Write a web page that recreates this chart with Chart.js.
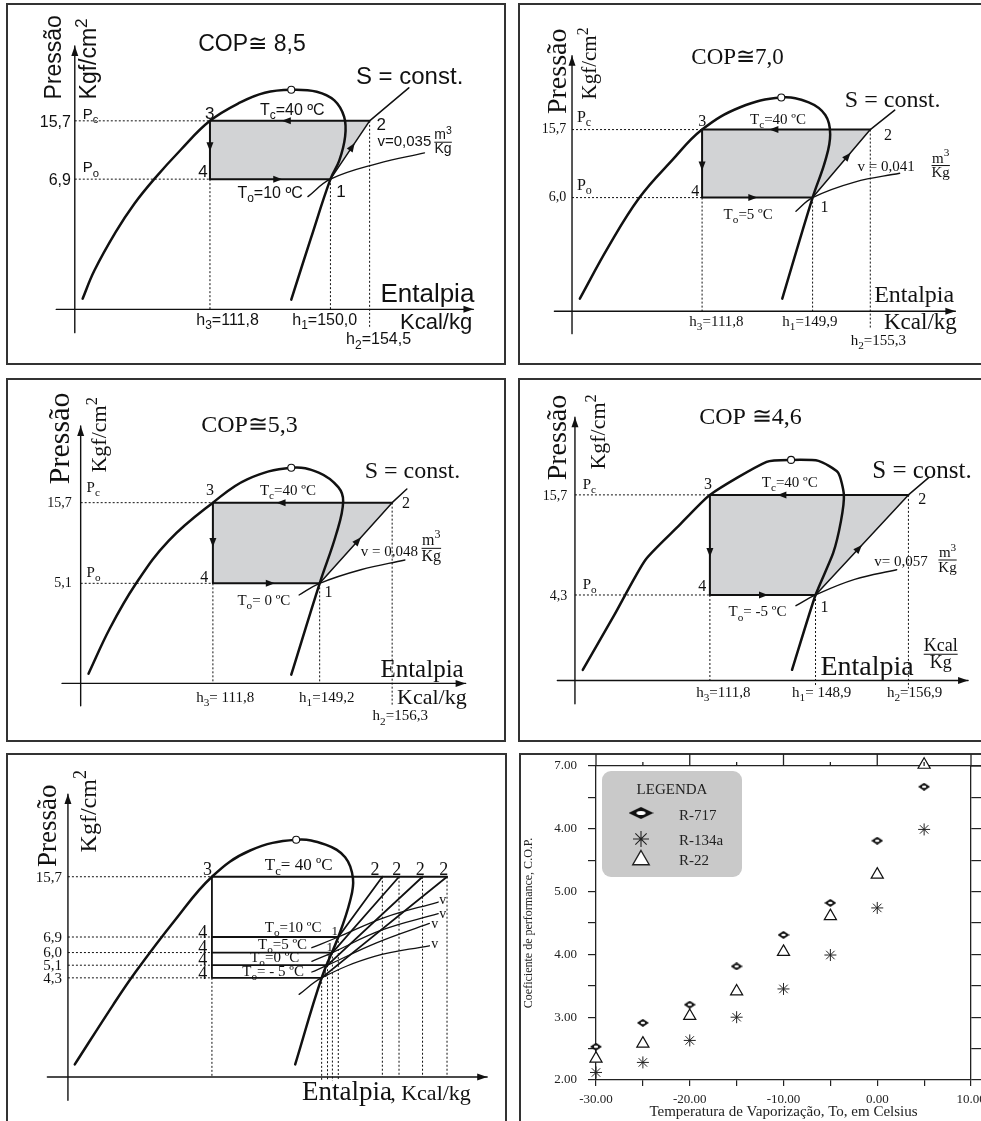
<!DOCTYPE html>
<html>
<head>
<meta charset="utf-8">
<title>Ciclo de refrigeração – diagramas P-h e COP</title>
<script src="https://cdn.jsdelivr.net/npm/chart.js@4.4.1/dist/chart.umd.min.js"></script>
<style>
  html, body { margin: 0; padding: 0; background: #fff; overflow: hidden; }
  body { position: relative; width: 981px; height: 1121px; }
  .frame { position: absolute; border: 2px solid #333; box-sizing: border-box; }
  canvas { position: absolute; }
</style>
</head>
<body>
<div class="frame" style="left:6px;top:3px;width:500px;height:362px"></div>
<div class="frame" style="left:518px;top:3px;width:500px;height:362px"></div>
<div class="frame" style="left:6px;top:378px;width:500px;height:364px"></div>
<div class="frame" style="left:518px;top:378px;width:500px;height:364px"></div>
<div class="frame" style="left:6px;top:753px;width:501px;height:400px"></div>
<div class="frame" style="left:519px;top:753px;width:500px;height:400px"></div>
<script>
// P-h diagrams are schematic: x / y are diagram units measured from the axis origin.

// panel 1 - To = 10 ºC
const p1Dome = [[8,11],[20,40],[42,80],[61,109],[81,134],[108,164],[138,194],[169,213],[194,223],[221,226],[247,224],[265,215],[275,198],[276,178],[270,153],[261,134],[241,73],[221,10]];
const p1Cycle = [[138,194],[301,194],[261,134],[138,134]];   // points 3, 2, 1, 4
const p1SEnd = [341,228];
const p1Vol = [[238,116],[261,134],[309,150],[357,161]];
const p1Crit = [221,226];

// panel 2 - To = 5 ºC
const p2Dome = [[8,13],[37,66],[69,117],[102,155],[133,187],[172,210],[214,220],[242,215],[259,202],[264,182],[259,155],[246,117],[215,13]];
const p2Cycle = [[133,187],[305,187],[246,117],[133,117]];
const p2SEnd = [330,207];
const p2Vol = [[229,103],[246,117],[289,133],[335,142]];
const p2Crit = [214,220];

// panel 3 - To = 0 ºC
const p3Dome = [[8,10],[30,57],[56,102],[90,147],[135,186],[170,210],[215,222],[243,217],[263,202],[268,187],[261,154],[244,103],[215,9]];
const p3Cycle = [[135,186],[318,186],[244,103],[135,103]];
const p3SEnd = [333,200];
const p3Vol = [[223,91],[244,103],[286,117],[331,127]];
const p3Crit = [215,222];

// panel 4 - To = -5 ºC
const p4Dome = [[8,11],[40,67],[72,124],[105,158],[138,191],[196,225],[221,227],[249,226],[269,214],[275,191],[272,164],[264,131],[246,88],[222,11]];
const p4Cycle = [[138,191],[341,191],[246,88],[138,88]];
const p4SEnd = [362,209];
const p4Vol = [[226,77],[246,88],[286,104],[329,114]];
const p4Crit = [221,227];

// panel 5 - the four evaporating temperatures together
const p5Dome = [[7,13],[46,74],[69,108],[109,161],[147,206],[186,233],[233,244],[263,239],[283,226],[291,204],[288,181],[276,144],[259,102],[232,13]];
const p5Crit = [233,244];
const p5Pc = 206;
const p5H3 = 147;
const p5Po = [144,128,115,102];      // To = 10, 5, 0, -5 ºC
const p5H1 = [276,270,265,259];
const p5H2 = [321,338,362,387];
const p5Vol = [
  [[249,133],[276,144],[323,164],[378,180]],
  [[249,119],[270,128],[320,151],[378,168]],
  [[249,108],[265,115],[315,138],[369,158]],
  [[236,85],[259,102],[313,124],[369,135]]
];

// panel 6 - COP vs evaporating temperature
const temps = [-30,-25,-20,-15,-10,-5,0,5];
const copR717 = [2.53,2.91,3.20,3.81,4.31,4.82,5.81,6.67];
const copR134a = [2.12,2.28,2.63,3.00,3.45,3.99,4.74,5.99];
const copR22 = [2.34,2.58,3.02,3.41,4.04,4.61,5.27,7.02];
const seriesNames = ['R-717','R-134a','R-22'];
const xTickVals = [-30,-20,-10,0,10];
const yTickLabels = ['2.00','3.00','4.00','5.00','4.00','7.00'];   // as printed on the figure

const SANS = '"Liberation Sans", Arial, "DejaVu Sans", sans-serif';
const SERIF = '"Liberation Serif", "Times New Roman", "DejaVu Serif", serif';
const INK = '#111';

// ---------- helpers ----------
function rich(ctx, s, x, y, size, fam, align, measureOnly) {
  const runs = [];
  let i = 0;
  while (i < s.length) {
    if ((s[i] === '_' || s[i] === '^') && s[i + 1] === '{') {
      const j = s.indexOf('}', i);
      runs.push({ t: s.slice(i + 2, j), k: s[i] });
      i = j + 1;
    } else {
      let j = i;
      while (j < s.length && !((s[j] === '_' || s[j] === '^') && s[j + 1] === '{')) j++;
      runs.push({ t: s.slice(i, j), k: '' });
      i = j;
    }
  }
  const font = r => (r.k ? size * 0.75 : size) + 'px ' + fam;
  let w = 0;
  runs.forEach(r => { ctx.font = font(r); r.w = ctx.measureText(r.t).width; w += r.w; });
  if (measureOnly) return w;
  let cx = align === 'right' ? x - w : align === 'center' ? x - w / 2 : x;
  ctx.textAlign = 'left';
  ctx.textBaseline = 'alphabetic';
  runs.forEach(r => {
    ctx.font = font(r);
    const dy = r.k === '_' ? size * 0.28 : r.k === '^' ? -size * 0.42 : 0;
    ctx.fillText(r.t, cx, y + dy);
    cx += r.w;
  });
  return w;
}

function drawFrac(ctx, top, bot, cx, barY, size, fam) {
  const w = Math.max(rich(ctx, top, 0, 0, size, fam, 'left', true), rich(ctx, bot, 0, 0, size, fam, 'left', true));
  rich(ctx, top, cx, barY - size * 0.2, size, fam, 'center');
  rich(ctx, bot, cx, barY + size * 0.78, size, fam, 'center');
  ctx.fillRect(cx - w / 2, barY - 0.5, w, 1);
}

function drawHead(ctx, x, y, dx, dy, len, hw) {
  const m = Math.hypot(dx, dy) || 1, ux = dx / m, uy = dy / m;
  ctx.beginPath();
  ctx.moveTo(x, y);
  ctx.lineTo(x - ux * len - uy * hw, y - uy * len + ux * hw);
  ctx.lineTo(x - ux * len + uy * hw, y - uy * len - ux * hw);
  ctx.closePath();
  ctx.fill();
}

const GAP = [null, null];
function segs(list) {
  const out = [];
  list.forEach((s, i) => { if (i) out.push(GAP); out.push(...s); });
  return out;
}

function line(data, w, extra) {
  return Object.assign({ data, borderColor: INK, borderWidth: w, pointRadius: 0, fill: false, tension: 0,
    borderCapStyle: 'round', borderJoinStyle: 'round' }, extra || {});
}

function makeCanvas(L) {
  const cv = document.createElement('canvas');
  cv.width = L.w; cv.height = L.h;
  cv.style.left = L.left + 'px'; cv.style.top = L.top + 'px';
  cv.style.width = L.w + 'px'; cv.style.height = L.h + 'px';
  document.body.appendChild(cv);
  return cv;
}

function annotPlugin(L, arrows) {
  return {
    id: 'annot_' + L.id,
    afterDatasetsDraw(chart) {
      const ctx = chart.ctx, xs = chart.scales.x, ys = chart.scales.y;
      const X = v => xs.getPixelForValue(v), Y = v => ys.getPixelForValue(v);
      ctx.save();
      ctx.fillStyle = INK;
      arrows.forEach(([a, b, t, len, hw]) => {
        const x = a[0] + (b[0] - a[0]) * t, y = a[1] + (b[1] - a[1]) * t;
        drawHead(ctx, X(x), Y(y), X(b[0]) - X(a[0]), Y(b[1]) - Y(a[1]), len, hw);
      });
      L.labels.forEach(lb => {
        const px = X(lb.x), py = Y(lb.y);
        if (lb.frac) { drawFrac(ctx, lb.frac[0], lb.frac[1], px, py, lb.s, L.font); return; }
        if (lb.rot) {
          ctx.save(); ctx.translate(px, py); ctx.rotate(-Math.PI / 2);
          rich(ctx, lb.t, 0, 0, lb.s, L.font, 'left');
          ctx.restore();
        } else {
          rich(ctx, lb.t, px, py, lb.s, L.font, lb.a || 'left');
        }
      });
      ctx.restore();
    }
  };
}

function mkChart(L, datasets, arrows) {
  new Chart(makeCanvas(L), {
    type: 'line',
    data: { datasets },
    options: {
      responsive: false, animation: false, events: [],
      layout: { padding: 0 },
      elements: { point: { radius: 0 } },
      plugins: { legend: { display: false }, tooltip: { enabled: false } },
      scales: {
        x: { type: 'linear', display: false, min: -L.ox, max: L.w - L.ox },
        y: { type: 'linear', display: false, min: L.oy - L.h, max: L.oy }
      }
    },
    plugins: [annotPlugin(L, arrows)]
  });
}

function axisArrows(L) {
  const [xa, xt, ya, yt] = L.axes;
  return {
    ds: line(segs([[[xa, 0], [xt, 0]], [[0, ya], [0, yt]]]), 1.4),
    arrows: [[[xa, 0], [xt, 0], 1, 10, 3.5], [[0, ya], [0, yt], 1, 10, 3.5]]
  };
}

function critDs(pt) {
  return line([pt], 1, { pointRadius: 3.5, pointBackgroundColor: '#fff', pointBorderColor: INK, pointBorderWidth: 1.1, showLine: false });
}

function phChart(L, dome, cycle, sEnd, vol, crit) {
  const [c3, c2, c1, c4] = cycle;
  const ax = axisArrows(L);
  const datasets = [
    critDs(crit),
    line([c2, c3, c4, c1], 2),
    line(dome, 2.5, { tension: L.tension }),
    line([c1, c2, sEnd], 1.5),
    line(vol, 1.4, { tension: 0.4 }),
    ax.ds,
    line(segs([[[0, c3[1]], c3], [[0, c4[1]], c4], [c4, [c4[0], 0]], [c1, [c1[0], L.h1Drop]], [c2, [c2[0], L.h2Drop]]]),
      1, { borderDash: [2, 2], borderCapStyle: 'butt' }),
    line([c4, c1, c2], 0, { fill: { value: c3[1] }, backgroundColor: '#d2d3d5' })
  ];
  const arrows = ax.arrows.concat([
    [c2, c3, L.arr[0], 9, 3.5], [c3, c4, L.arr[1], 9, 3.5], [c4, c1, L.arr[2], 9, 3.5], [c1, c2, L.arr[3], 9, 3.5]
  ]);
  mkChart(L, datasets, arrows);
}

// ---------- panel layouts ----------
const L1 = { id: 'c1', left: 7, top: 4, w: 498, h: 360, ox: 64, oy: 309, font: SANS,
  axes: [-19, 407, -24, 271], h1Drop: 0, h2Drop: -20, arr: [0.55, 0.52, 0.6, 0.62], tension: 0.4,
  labels: [
    { t: 'Pressão', x: -14, y: 216, s: 23, rot: 1 },
    { t: 'Kgf/cm^{2}', x: 22, y: 216, s: 23, rot: 1 },
    { t: 'COP≅ 8,5', x: 126, y: 266, s: 23 },
    { t: 'S = const.', x: 287, y: 232, s: 24 },
    { t: 'P_{c}', x: 8, y: 196, s: 15 },
    { t: '15,7', x: -4, y: 188, s: 16, a: 'right' },
    { t: 'P_{o}', x: 8, y: 141, s: 15 },
    { t: '6,9', x: -4, y: 128, s: 16, a: 'right' },
    { t: '3', x: 133, y: 196, s: 17 },
    { t: '4', x: 126, y: 136, s: 17 },
    { t: '2', x: 308, y: 185, s: 17 },
    { t: '1', x: 267, y: 116, s: 17 },
    { t: 'T_{c}=40 ºC', x: 189, y: 200, s: 16 },
    { t: 'T_{o}=10 ºC', x: 166, y: 115, s: 16 },
    { t: 'v=0,035', x: 309, y: 168, s: 15 },
    { frac: ['m^{3}', 'Kg'], x: 376, y: 172, s: 14 },
    { t: 'Entalpia', x: 312, y: 8, s: 26 },
    { t: 'Kcal/kg', x: 332, y: -20, s: 22 },
    { t: 'h_{3}=111,8', x: 124, y: -16, s: 16 },
    { t: 'h_{1}=150,0', x: 222, y: -16, s: 16 },
    { t: 'h_{2}=154,5', x: 277, y: -36, s: 16 }
  ] };

const L2 = { id: 'c2', left: 519, top: 4, w: 462, h: 360, ox: 49, oy: 311, font: SERIF,
  axes: [-18, 392, -23, 263], h1Drop: 0, h2Drop: -17, arr: [0.6, 0.6, 0.5, 0.66], tension: 0.4,
  labels: [
    { t: 'Pressão', x: -6, y: 203, s: 28, rot: 1 },
    { t: 'Kgf/cm^{2}', x: 25, y: 218, s: 21, rot: 1 },
    { t: 'COP≅7,0', x: 122, y: 255, s: 23 },
    { t: 'S = const.', x: 279, y: 210, s: 24 },
    { t: 'P_{c}', x: 5, y: 195, s: 16 },
    { t: '15,7', x: -6, y: 184, s: 14, a: 'right' },
    { t: 'P_{o}', x: 5, y: 125, s: 16 },
    { t: '6,0', x: -6, y: 113, s: 14, a: 'right' },
    { t: '3', x: 129, y: 191, s: 16 },
    { t: '4', x: 122, y: 119, s: 16 },
    { t: '2', x: 319, y: 176, s: 16 },
    { t: '1', x: 254, y: 102, s: 16 },
    { t: 'T_{c}=40 ºC', x: 182, y: 193, s: 15 },
    { t: 'T_{o}=5 ºC', x: 155, y: 95, s: 15 },
    { t: 'v = 0,041', x: 292, y: 144, s: 15 },
    { frac: ['m^{3}', 'Kg'], x: 377, y: 150, s: 15 },
    { t: 'Entalpia', x: 309, y: 10, s: 24 },
    { t: 'Kcal/kg', x: 319, y: -18, s: 23 },
    { t: 'h_{3}=111,8', x: 120, y: -15, s: 15 },
    { t: 'h_{1}=149,9', x: 215, y: -15, s: 15 },
    { t: 'h_{2}=155,3', x: 285, y: -35, s: 15 }
  ] };

const L3 = { id: 'c3', left: 7, top: 379, w: 498, h: 362, ox: 70, oy: 308, font: SERIF,
  axes: [-19, 393, -23, 265], h1Drop: 0, h2Drop: -23, arr: [0.645, 0.55, 0.58, 0.57], tension: 0.4,
  labels: [
    { t: 'Pressão', x: -12, y: 205, s: 30, rot: 1 },
    { t: 'Kgf/cm^{2}', x: 26, y: 217, s: 22, rot: 1 },
    { t: 'COP≅5,3', x: 123, y: 259, s: 24 },
    { t: 'S = const.', x: 290, y: 211, s: 24 },
    { t: 'P_{c}', x: 6, y: 197, s: 15 },
    { t: '15,7', x: -9, y: 182, s: 14, a: 'right' },
    { t: 'P_{o}', x: 6, y: 110, s: 15 },
    { t: '5,1', x: -9, y: 99, s: 14, a: 'right' },
    { t: '3', x: 128, y: 194, s: 16 },
    { t: '4', x: 122, y: 104, s: 16 },
    { t: '2', x: 328, y: 180, s: 16 },
    { t: '1', x: 249, y: 89, s: 16 },
    { t: 'T_{c}=40 ºC', x: 183, y: 194, s: 15 },
    { t: 'T_{o}= 0 ºC', x: 160, y: 81, s: 15 },
    { t: 'v = 0,048', x: 286, y: 131, s: 15 },
    { frac: ['m^{3}', 'Kg'], x: 358, y: 139, s: 16 },
    { t: 'Entalpia', x: 306, y: 7, s: 25 },
    { t: 'Kcal/kg', x: 323, y: -21, s: 22 },
    { t: 'h_{3}= 111,8', x: 118, y: -19, s: 15 },
    { t: 'h_{1}=149,2', x: 223, y: -19, s: 15 },
    { t: 'h_{2}=156,3', x: 298, y: -38, s: 15 }
  ] };

const L4 = { id: 'c4', left: 519, top: 379, w: 462, h: 362, ox: 52, oy: 305, font: SERIF,
  axes: [-18, 402, -24, 271], h1Drop: -6, h2Drop: -8, arr: [0.66, 0.62, 0.55, 0.5], tension: 0.2,
  labels: [
    { t: 'Pressão', x: -9, y: 206, s: 28, rot: 1 },
    { t: 'Kgf/cm^{2}', x: 31, y: 217, s: 22, rot: 1 },
    { t: 'COP ≅4,6', x: 127, y: 264, s: 24 },
    { t: 'S = const.', x: 304, y: 208, s: 25 },
    { t: 'P_{c}', x: 8, y: 197, s: 15 },
    { t: '15,7', x: -8, y: 186, s: 14, a: 'right' },
    { t: 'P_{o}', x: 8, y: 94, s: 15 },
    { t: '4,3', x: -8, y: 83, s: 14, a: 'right' },
    { t: '3', x: 132, y: 197, s: 16 },
    { t: '4', x: 126, y: 92, s: 16 },
    { t: '2', x: 351, y: 182, s: 16 },
    { t: '1', x: 251, y: 70, s: 16 },
    { t: 'T_{c}=40 ºC', x: 191, y: 199, s: 15 },
    { t: 'T_{o}= -5 ºC', x: 157, y: 66, s: 15 },
    { t: 'v= 0,057', x: 306, y: 118, s: 15 },
    { frac: ['m^{3}', 'Kg'], x: 381, y: 124, s: 15 },
    { t: 'Entalpia', x: 251, y: 6, s: 28 },
    { frac: ['Kcal', 'Kg'], x: 374, y: 27, s: 18 },
    { t: 'h_{3}=111,8', x: 124, y: -17, s: 15 },
    { t: 'h_{1}= 148,9', x: 222, y: -17, s: 15 },
    { t: 'h_{2}=156,9', x: 319, y: -17, s: 15 }
  ] };

const p5PoLabels = ['6,9', '6,0', '5,1', '4,3'];
const p5ToLabels = ['T_{o}=10 ºC', 'T_{o}=5 ºC', 'T_{o}=0 ºC', 'T_{o}= - 5 ºC'];
const L5 = { id: 'c5', left: 7, top: 754, w: 499, h: 367, ox: 57, oy: 327, font: SERIF,
  axes: [-21, 428, -24, 291],
  labels: [
    { t: 'Pressão', x: -12, y: 216, s: 27, rot: 1 },
    { t: 'Kgf/cm^{2}', x: 29, y: 231, s: 24, rot: 1 },
    { t: '15,7', x: -6, y: 201, s: 15, a: 'right' },
    { t: '3', x: 138, y: 208, s: 18 },
    { t: 'T_{c}= 40 ºC', x: 201, y: 213, s: 17 },
    { t: 'Entalpia', x: 239, y: -24, s: 27 },
    { t: ', Kcal/kg', x: 329, y: -24, s: 22 }
  ]
    .concat(p5PoLabels.map((t, i) => ({ t, x: -6, y: [139, 123, 110, 97][i], s: 15, a: 'right' })))
    .concat([309, 331, 355, 379].map(x => ({ t: '2', x, y: 208, s: 18 })))
    .concat([143, 128, 115, 101].map(y => ({ t: '4', x: 133, y, s: 18 })))
    .concat(p5ToLabels.map((t, i) => ({ t, x: [201, 194, 186, 178][i], y: [149, 132, 118, 104][i], s: 15 })))
    .concat([[269, 146], [264, 130], [263, 118], [259, 103]].map(([x, y]) => ({ t: '1', x, y, s: 13 })))
    .concat([[379, 178], [379, 164], [371, 153], [371, 133]].map(([x, y]) => ({ t: 'v', x, y, s: 14 })))
};

// ---------- build P-h panels ----------
phChart(L1, p1Dome, p1Cycle, p1SEnd, p1Vol, p1Crit);
phChart(L2, p2Dome, p2Cycle, p2SEnd, p2Vol, p2Crit);
phChart(L3, p3Dome, p3Cycle, p3SEnd, p3Vol, p3Crit);
phChart(L4, p4Dome, p4Cycle, p4SEnd, p4Vol, p4Crit);

(function panel5() {
  const ax = axisArrows(L5);
  const top = p5H2[p5H2.length - 1];
  const low = p5Po[p5Po.length - 1];
  const datasets = [
    critDs(p5Crit),
    line(segs([[[p5H3, p5Pc], [top, p5Pc]], [[p5H3, p5Pc], [p5H3, low]]]
      .concat(p5Po.map((po, i) => [[p5H3, po], [p5H1[i], po]]))), 1.8),
    line(p5Dome, 2.5, { tension: 0.4 }),
    line(segs(p5Po.map((po, i) => [[p5H1[i], po], [p5H2[i], p5Pc]])), 1.8)
  ].concat(p5Vol.map(v => line(v, 1.3, { tension: 0.4 })))
   .concat([
    ax.ds,
    line(segs([[[0, p5Pc], [p5H3, p5Pc]], [[p5H3, low], [p5H3, 0]]]
      .concat(p5Po.map(po => [[0, po], [p5H3, po]]))
      .concat(p5Po.map((po, i) => [[p5H1[i], po], [p5H1[i], -4]]))
      .concat(p5H2.map(h => [[h, p5Pc], [h, 0]]))), 1, { borderDash: [2, 2], borderCapStyle: 'butt' })
  ]);
  mkChart(L5, datasets, ax.arrows);
})();

// ---------- panel 6: scatter ----------
function makeDiamond(w, h, rx, ry) {
  const c = document.createElement('canvas');
  c.width = w; c.height = h;
  const g = c.getContext('2d');
  g.fillStyle = INK;
  g.beginPath(); g.moveTo(0, h / 2); g.lineTo(w / 2, 0); g.lineTo(w, h / 2); g.lineTo(w / 2, h); g.closePath(); g.fill();
  g.fillStyle = '#fff';
  g.beginPath(); g.ellipse(w / 2, h / 2, rx, ry, 0, 0, Math.PI * 2); g.fill();
  return c;
}
const diamondSm = makeDiamond(12, 8, 2.2, 1.3);
const diamondLg = makeDiamond(25, 12, 4.5, 2);

const L6 = { id: 'c6', left: 520, top: 754, w: 461, h: 367 };

const scatterDeco = {
  id: 'scatterDeco',
  afterDraw(chart) {
    const ctx = chart.ctx, a = chart.chartArea, xs = chart.scales.x;
    ctx.save();
    ctx.strokeStyle = '#222';
    ctx.lineWidth = 1.3;
    // frame ticks along the top, long ones on the tens
    for (let v = -30; v <= 10; v += 5) {
      const px = xs.getPixelForValue(v);
      ctx.beginPath();
      ctx.moveTo(px, a.top);
      ctx.lineTo(px, v % 10 === 0 ? 0 : a.top - 4);
      ctx.stroke();
    }
    ctx.beginPath(); ctx.moveTo(a.right, a.top); ctx.lineTo(chart.width, a.top); ctx.stroke();

    // legend box
    const bx = a.left + 6, by = a.top + 5, bw = 140, bh = 106;
    ctx.fillStyle = '#c9c9c9';
    ctx.beginPath();
    ctx.roundRect(bx, by, bw, bh, 9);
    ctx.fill();
    ctx.fillStyle = '#222';
    ctx.font = '15px ' + SERIF;
    ctx.textAlign = 'center';
    ctx.textBaseline = 'alphabetic';
    ctx.fillText('LEGENDA', bx + 70, by + 23);
    ctx.textAlign = 'left';
    const rows = [42, 68, 89], bases = [49, 74, 94];
    ctx.drawImage(diamondLg, bx + 39 - diamondLg.width / 2, by + rows[0] - diamondLg.height / 2);
    ctx.strokeStyle = '#222';
    ctx.lineWidth = 1.1;
    Chart.helpers.drawPoint(ctx, { pointStyle: 'star', radius: 8, borderWidth: 1.1 }, bx + 39, by + rows[1]);
    ctx.fillStyle = '#fff';
    ctx.lineWidth = 1.4;
    ctx.beginPath();
    Chart.helpers.drawPoint(ctx, { pointStyle: 'triangle', radius: 9.5, borderWidth: 1.4 }, bx + 39, by + rows[2]);
    ctx.fillStyle = '#222';
    seriesNames.forEach((n, i) => ctx.fillText(n, bx + 77, by + bases[i]));
    ctx.restore();
  }
};

(function panel6() {
  const pts = arr => temps.map((t, i) => ({ x: t, y: arr[i] }));
  const fixBox = (w, h) => s => {
    if (w != null) s.width = w;
    if (h != null) s.height = h;
    s.paddingLeft = s.paddingRight = s.paddingTop = s.paddingBottom = 0;
  };
  const tickFont = { family: SERIF, size: 13 };
  const frame = { color: '#222', width: 1.3 };
  new Chart(makeCanvas(L6), {
    type: 'scatter',
    data: {
      datasets: [
        { label: seriesNames[0], data: pts(copR717), pointStyle: diamondSm, pointRadius: 6, clip: false },
        { label: seriesNames[1], data: pts(copR134a), pointStyle: 'star', pointRadius: 6,
          borderColor: '#222', borderWidth: 1, clip: false },
        { label: seriesNames[2], data: pts(copR22), pointStyle: 'triangle', pointRadius: 7,
          backgroundColor: '#fff', borderColor: INK, borderWidth: 1.2, clip: false }
      ]
    },
    options: {
      responsive: false, animation: false, events: [],
      layout: { padding: 0 },
      plugins: { legend: { display: false }, tooltip: { enabled: false } },
      scales: {
        x: {
          type: 'linear', position: 'bottom', min: -30, max: 10, afterFit: fixBox(null, 41),
          ticks: { stepSize: 5, autoSkip: false, maxRotation: 0, padding: 6, color: '#222', font: tickFont,
            callback: v => xTickVals.includes(v) ? v.toFixed(2) : '' },
          grid: { drawOnChartArea: false, tickLength: 6, color: '#222', lineWidth: 1.2 },
          border: frame,
          title: { display: true, text: 'Temperatura de Vaporização, To, em Celsius', color: '#222',
            font: { family: SERIF, size: 15 }, padding: { top: 0, bottom: 0 } }
        },
        x2: {
          type: 'linear', position: 'top', min: -30, max: 10, afterFit: fixBox(null, 12),
          ticks: { display: false }, grid: { display: false }, border: frame
        },
        y: {
          type: 'linear', position: 'left', min: 2, max: 7, afterFit: fixBox(76, null),
          ticks: { stepSize: 0.5, autoSkip: false, padding: 11, color: '#222', font: tickFont,
            callback: v => Number.isInteger(v) ? yTickLabels[v - 2] : '' },
          grid: { drawOnChartArea: false, tickLength: 8, color: '#222', lineWidth: 1.2 },
          border: frame,
          title: { display: true, text: 'Coeficiente de performance, C.O.P.', color: '#222',
            font: { family: SERIF, size: 12 }, padding: { top: 2, bottom: 0 } }
        },
        y2: {
          type: 'linear', position: 'right', min: 2, max: 7, afterFit: fixBox(10, null),
          ticks: { display: false, stepSize: 0.5 },
          grid: { drawOnChartArea: false, tickLength: 10, color: '#222', lineWidth: 1.2 },
          border: frame
        }
      }
    },
    plugins: [scatterDeco]
  });
})();
</script>
</body>
</html>
